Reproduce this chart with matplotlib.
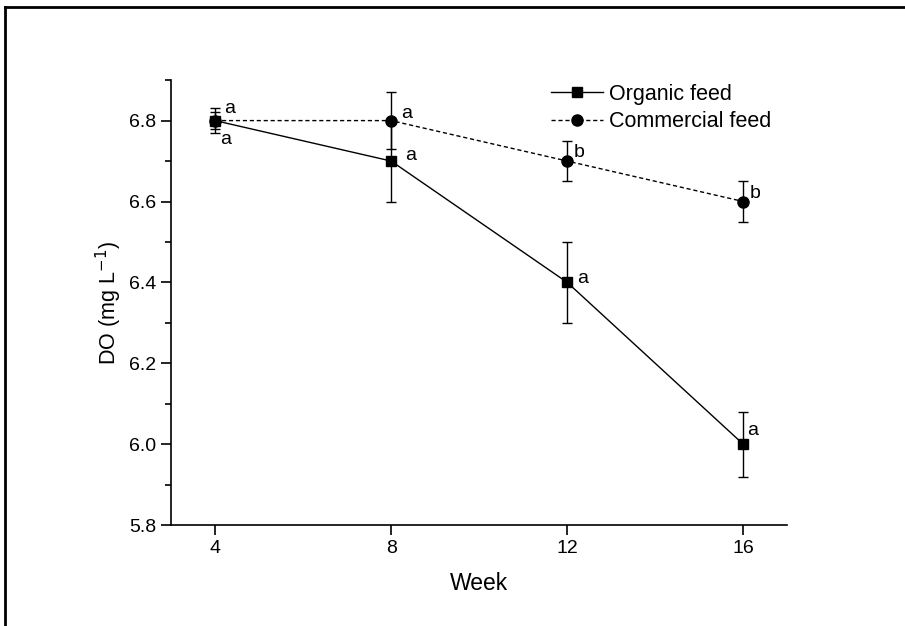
import matplotlib.pyplot as plt
from matplotlib.lines import Line2D
from matplotlib.ticker import MultipleLocator

plt.rcParams['font.family'] = ['Liberation Sans', 'DejaVu Sans']

weeks = [4, 8, 12, 16]
organic = [6.8, 6.7, 6.4, 6.0]
organic_err = [0.02, 0.1, 0.1, 0.08]
commercial = [6.8, 6.8, 6.7, 6.6]
commercial_err = [0.03, 0.07, 0.05, 0.05]
organic_letters = ['a', 'a', 'a', 'a']
commercial_letters = ['a', 'a', 'b', 'b']

# letter offsets in points (x, y) relative to each marker
organic_offsets = [(3.6, -16.5), (10, 0.7), (7, -0.7), (3, 6.5)]
commercial_offsets = [(6.5, 5.8), (7, 2.2), (4.3, 2.9), (4.3, 2.2)]

fig = plt.figure(figsize=(9.05, 6.26), dpi=100)
ax = fig.add_axes([0.189, 0.161, 0.681, 0.711])

ax.errorbar(weeks, organic, yerr=organic_err, color='black', linestyle='-', linewidth=1,
            marker='s', markersize=7.5, capsize=3.5, elinewidth=1, capthick=1)
ax.errorbar(weeks, commercial, yerr=commercial_err, color='black', linestyle=(0, (3, 2)), linewidth=1,
            marker='o', markersize=8, capsize=3.5, elinewidth=1, capthick=1)

for x, y, t, off in zip(weeks, organic, organic_letters, organic_offsets):
    ax.annotate(t, (x, y), xytext=off, textcoords='offset points', fontsize=14, va='baseline')
for x, y, t, off in zip(weeks, commercial, commercial_letters, commercial_offsets):
    ax.annotate(t, (x, y), xytext=off, textcoords='offset points', fontsize=14, va='baseline')

ax.set_xlim(3, 17)
ax.set_ylim(5.8, 6.9)
ax.set_xticks(weeks)
ax.yaxis.set_major_locator(MultipleLocator(0.2))
ax.yaxis.set_minor_locator(MultipleLocator(0.1))
ax.tick_params(axis='both', which='major', direction='out', length=7, width=1.2, labelsize=14)
ax.tick_params(axis='y', which='minor', direction='out', length=4.5, width=1.2)
for s in ['left', 'bottom']:
    ax.spines[s].set_linewidth(1.2)
ax.spines['top'].set_visible(False)
ax.spines['right'].set_visible(False)
ax.set_xlabel('Week', fontsize=16.5, labelpad=11)
ax.set_ylabel('DO (mg L$^{-1}$)', fontsize=15.5, labelpad=4)

handles = [
    Line2D([], [], color='black', linestyle='-', linewidth=1, marker='s', markersize=7.5),
    Line2D([], [], color='black', linestyle=(0, (3, 2)), linewidth=1, marker='o', markersize=8),
]
fig.legend(handles, ['Organic feed', 'Commercial feed'], loc='upper left',
           bbox_to_anchor=(0.609, 0.866), frameon=False, fontsize=15.5,
           handlelength=2.4, handletextpad=0.3, labelspacing=0.3,
           borderpad=0, borderaxespad=0)

# outer frame (top and left edges)
fig.add_artist(Line2D([0.0055, 1.0], [0.989, 0.989], color='black', linewidth=2, transform=fig.transFigure))
fig.add_artist(Line2D([0.0055, 0.0055], [0.0, 0.989], color='black', linewidth=2, transform=fig.transFigure))

fig.savefig('out.png', dpi=100)
